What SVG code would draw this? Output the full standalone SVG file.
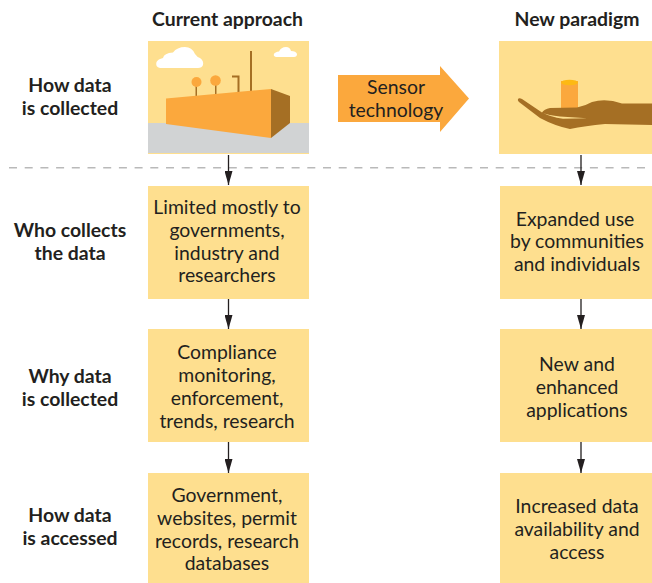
<svg xmlns="http://www.w3.org/2000/svg" width="652" height="583" viewBox="0 0 652 583">
<style>
text{font-family:"Lato","Open Sans",sans-serif;text-anchor:middle;fill:#231f20}
.b{font-size:19.4px}
.h{font-size:19.4px;font-weight:700}
.box{fill:#fedf8f}
.c{stroke:#231f20;stroke-width:1.3;fill:none;marker-end:url(#a)}
.o{fill:#fba83d}
.d{fill:#a56f24}
</style>
<defs><marker id="a" markerUnits="userSpaceOnUse" markerWidth="14" markerHeight="8" refX="14" refY="4" orient="auto" viewBox="0 0 14 8"><path d="M0 0V8L14 4Z" fill="#231f20"/></marker></defs>
<g id="labels">
<text class="h" x="227.500" y="25.500">Current approach</text>
<text class="h" x="577" y="25.500">New paradigm</text>
<text class="h" x="70" y="91.500">How data</text><text class="h" x="70" y="114.500">is collected</text>
<text class="h" x="70" y="236.500">Who collects</text><text class="h" x="70" y="259.500">the data</text>
<text class="h" x="70" y="382.500">Why data</text><text class="h" x="70" y="405.500">is collected</text>
<text class="h" x="70" y="521.500">How data</text><text class="h" x="70" y="544.500">is accessed</text>
</g>
<line x1="9" y1="167.700" x2="652" y2="167.700" stroke="#b9b9b9" stroke-width="1.500" stroke-dasharray="8 7.700"/>
<g id="connectors">
<path class="c" d="M228.500 155V185"/><path class="c" d="M228.500 299V329"/><path class="c" d="M228.500 442V473"/>
<path class="c" d="M581 155V185"/><path class="c" d="M581 299V329"/><path class="c" d="M581 442V473"/>
</g>
<g id="factory">
<rect class="box" x="148" y="41" width="161" height="113"/>
<rect x="148" y="123" width="161" height="30" fill="#d1d3d4"/>
<path fill="#fff" d="M160 68Q155 67 156.500 62Q158 59 163 58Q164 53 173 52.500Q177 47 185 47Q192 47 195 54Q197 57 200 58Q204 61 203 65Q202 68 198 68Z"/>
<path fill="#fff" d="M276 57Q273 56 274 54Q275 52 279 51.500Q281 47 286 47Q290 47 291 51Q296 51 297 54Q297 57 294 57Z"/>
<path class="d" d="M250 51H252V92H250ZM195.500 85H197V97H195.500ZM215 85H216.500V95H215ZM232 75.500H239.500V92H237.500V77.500H232Z"/>
<circle class="o" cx="196.500" cy="82" r="5"/><circle class="o" cx="215.500" cy="80.500" r="5.300"/>
<path class="o" d="M166 98.500L271 89V138L166 124Z"/>
<path class="d" d="M271 89L290 96V123L271 138Z"/>
</g>
<g id="hand">
<rect class="box" x="499" y="41" width="153" height="113"/>
<path class="o" d="M561 81H578V110H561Z"/><ellipse cx="569.500" cy="82.500" rx="8.500" ry="2.800" fill="#fdb913"/>
<path class="d" d="M518.500 98.500Q520 98 522 99L542 112.500Q544 109 550 108L577 107.500Q585 106 592 102Q606 98 622 103.500H652V125L605 124Q585 126 570 129Q555 126 540 118L519 102Q517 100 518.500 98.500Z"/>
<path d="M543 112.800Q548 115.500 560 116.500L587 118.300L563 118.800Q550 117 543 112.800Z" fill="#fedf8f"/>
</g>
<g id="sensor"><path class="o" d="M338 75H440V66L469 98.500L440 132V122H338Z"/>
<text class="b" x="396" y="93.500">Sensor</text><text class="b" x="396" y="116.500">technology</text></g>
<g id="n1"><rect class="box" x="148" y="186" width="161" height="113"/><text class="b" x="227" y="213.500">Limited mostly to</text><text class="b" x="227" y="236.500">governments,</text><text class="b" x="227" y="259.500">industry and</text><text class="b" x="227" y="281.500">researchers</text></g>
<g id="n2"><rect class="box" x="148" y="329" width="161" height="113"/><text class="b" x="227" y="358.500">Compliance</text><text class="b" x="227" y="381.500">monitoring,</text><text class="b" x="227" y="404.500">enforcement,</text><text class="b" x="227" y="427.500">trends, research</text></g>
<g id="n3"><rect class="box" x="148" y="473" width="161" height="110"/><text class="b" x="227" y="501.500">Government,</text><text class="b" x="227" y="524.500">websites, permit</text><text class="b" x="227" y="547.500">records, research</text><text class="b" x="227" y="569.500">databases</text></g>
<g id="n4"><rect class="box" x="500" y="186" width="152" height="113"/><text class="b" x="575" y="225.500">Expanded use</text><text class="b" x="577" y="247.500">by communities</text><text class="b" x="577" y="270.500">and individuals</text></g>
<g id="n5"><rect class="box" x="500" y="329" width="152" height="113"/><text class="b" x="577" y="370.500">New and</text><text class="b" x="577" y="393.500">enhanced</text><text class="b" x="577" y="416.500">applications</text></g>
<g id="n6"><rect class="box" x="500" y="473" width="152" height="110"/><text class="b" x="577" y="512.500">Increased data</text><text class="b" x="577" y="535.500">availability and</text><text class="b" x="577" y="558.500">access</text></g>
</svg>
